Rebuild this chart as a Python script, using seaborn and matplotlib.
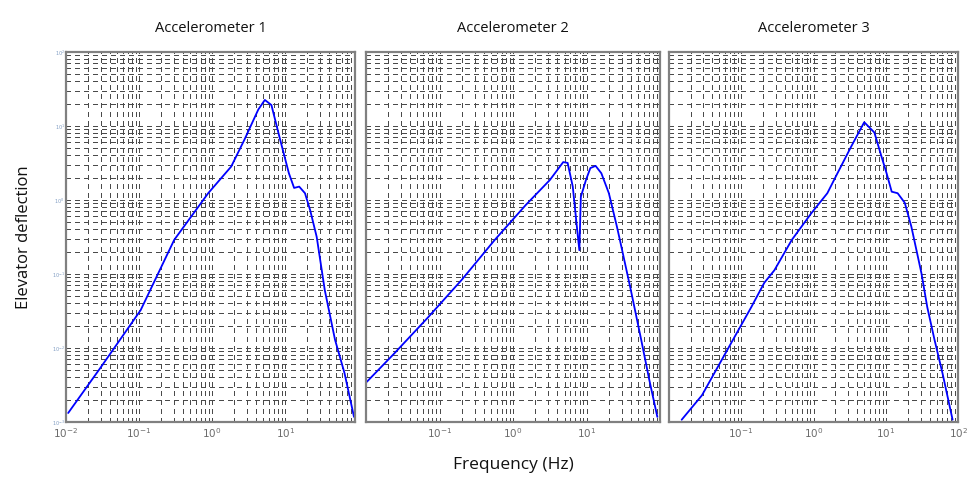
import numpy as np
import pandas as pd
import seaborn as sns
import matplotlib.pyplot as plt
from matplotlib.ticker import LogLocator, NullFormatter

# datos (frecuencia en Hz, deflexion)
titulos = ["Accelerometer 1", "Accelerometer 2", "Accelerometer 3"]

frec1 = [0.0107, 0.0295, 0.105, 0.302, 0.881, 1.82, 2.75, 4.27, 5.25, 6.46, 8.32,
         11.2, 13.2, 15.5, 18.6, 21.9, 26.9, 34.7, 47.9, 64.6, 87.1]
defl1 = [0.00132, 0.00537, 0.0324, 0.288, 1.23, 2.82, 6.46, 16.6, 22.4, 19.1, 7.08,
         2.29, 1.45, 1.51, 1.23, 0.724, 0.316, 0.0603, 0.0129, 0.00457, 0.00117]

frec2 = [0.0102, 0.0234, 0.0692, 0.200, 0.562, 1.48, 3.16, 4.79, 5.50, 6.46, 7.59,
         7.94, 8.32, 9.77, 11.2, 13.2, 15.8, 20.0, 25.7, 28.8, 39.8, 55.0, 70.8, 91.2]
defl2 = [0.00347, 0.00813, 0.0257, 0.0832, 0.288, 0.851, 1.86, 3.24, 3.16, 1.51, 0.316,
         0.209, 1.10, 1.86, 2.69, 2.88, 2.29, 1.23, 0.437, 0.263, 0.0603, 0.0129, 0.00372, 0.00117]

frec3 = [0.0151, 0.0288, 0.0427, 0.0813, 0.138, 0.209, 0.288, 0.501, 0.933, 1.55, 2.14,
         3.31, 5.01, 6.92, 8.71, 10.2, 12.0, 14.5, 18.2, 22.4, 30.9, 37.2, 46.8, 60.3, 83.2]
defl3 = [0.00107, 0.00229, 0.00457, 0.0141, 0.0355, 0.0759, 0.112, 0.288, 0.661, 1.23, 2.29,
         5.25, 11.2, 8.13, 3.80, 2.29, 1.29, 1.23, 0.912, 0.437, 0.102, 0.0355, 0.0129, 0.00457, 0.00107]

xticks_panel = [[0.01, 0.1, 1, 10], [0.1, 1, 10], [0.1, 1, 10, 100]]
xlims = [(0.01, 91), (0.01, 100), (0.0101, 100)]
yticks = [0.001, 0.01, 0.1, 1, 10, 100]

frecs = [frec1, frec2, frec3]
defls = [defl1, defl2, defl3]

sns.set_style("white")
plt.rcParams['font.family'] = ['Open Sans', 'DejaVu Sans']

fig = plt.figure(figsize=(9.71, 4.8), dpi=100)
posiciones = [[0.068, 0.121, 0.298, 0.771],
              [0.377, 0.121, 0.303, 0.771],
              [0.689, 0.121, 0.298, 0.771]]

for i in range(3):
    ax = fig.add_axes(posiciones[i])
    df = pd.DataFrame({'f': frecs[i], 'd': defls[i]})
    ax.set_xscale('log')
    ax.set_yscale('log')
    sns.lineplot(x='f', y='d', data=df, ax=ax, color='#0000ff', linewidth=1.3, sort=False)

    ax.xaxis.set_minor_locator(LogLocator(base=10, subs=np.arange(2, 10)))
    ax.yaxis.set_minor_locator(LogLocator(base=10, subs=np.arange(2, 10)))
    ax.xaxis.set_minor_formatter(NullFormatter())
    ax.yaxis.set_minor_formatter(NullFormatter())
    # rejilla punteada densa, sin suavizado
    ax.grid(which='both', linestyle=(0, (3, 3)), color='#4a4a4a', linewidth=1.0, antialiased=False)
    ax.set_axisbelow(True)

    ax.set_xticks(xticks_panel[i])
    ax.set_xticklabels(["$10^{%d}$" % int(np.log10(t)) for t in xticks_panel[i]])
    ax.tick_params(axis='x', which='both', direction='in', labelsize=7.5,
                   labelcolor='#6b6b6b', length=3, color='#555555')
    ax.set_yticks(yticks)
    if i == 0:
        ax.set_yticklabels(["$10^{%d}$" % int(np.log10(t)) for t in yticks])
        ax.tick_params(axis='y', labelsize=3.5, labelcolor='#7f9cc2', length=0, pad=1)
    else:
        ax.set_yticklabels([])
        ax.tick_params(axis='y', length=0)
    ax.tick_params(axis='y', which='minor', length=0)
    ax.set_ylim(0.001, 100)
    ax.set_xlim(xlims[i])

    for s in ax.spines.values():
        s.set_color('#808080')
        s.set_linewidth(1.6)

    ax.set_title(titulos[i], fontsize=10.5, pad=14, color='#111111')
    ax.set_xlabel('')
    ax.set_ylabel('')
    if i == 0:
        ax.set_ylabel('Elevator deflection', fontsize=12, labelpad=14, color='#111111')
    if i == 1:
        ax.set_xlabel('Frequency (Hz)', fontsize=12.5, labelpad=12, color='#111111')

fig.savefig('out.png', dpi=100)
